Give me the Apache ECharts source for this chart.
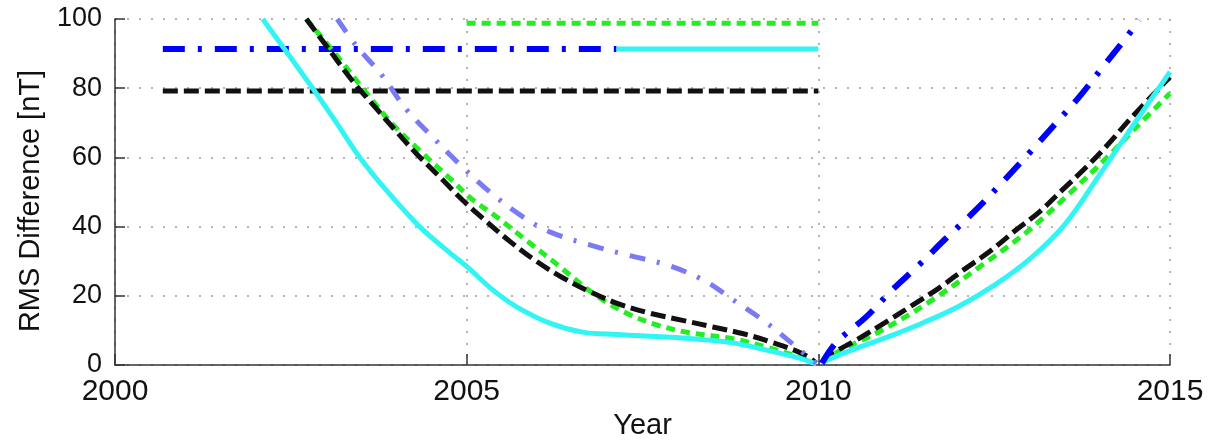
<!DOCTYPE html>
<html>
<head>
<meta charset="utf-8">
<script src="https://cdn.jsdelivr.net/npm/echarts@6/dist/echarts.min.js"></script>
<style>
html,body{margin:0;padding:0;background:#fff;}
#chart{width:1211px;height:440px;}
</style>
</head>
<body>
<div id="chart"></div>
<script>
// ---- Tick labels / axis ranges ----
const xTicks = [2000, 2005, 2010, 2015];
const yTicks = [0, 20, 40, 60, 80, 100];

// ---- Horizontal reference levels ----
const blackFlatYears = [2000.68, 2010];
const blackFlatValues = [79.2, 79.2];
const blueFlatYears = [2000.68, 2007.13];
const blueFlatValues = [91.3, 91.3];
const cyanFlatYears = [2007.13, 2010];
const cyanFlatValues = [91.3, 91.3];
const greenFlatYears = [2005, 2010];
const greenFlatValues = [98.8, 98.8];

// ---- Curves before 2010 ----
const cyanPreYears  = [2002.1, 2002.81, 2003.15, 2003.48, 2003.9, 2004.33, 2004.76, 2005.0, 2005.37, 2005.71, 2006.18, 2006.65, 2007.13, 2008.07, 2008.78, 2009.26, 2009.73, 2009.97];
const cyanPreValues = [100, 80, 70, 60, 49.5, 40, 32.4, 28.5, 21.7, 16.8, 12.1, 9.5, 8.8, 7.8, 6.4, 4.3, 2, 0.3];

const blackPreYears  = [2002.72, 2003.05, 2003.38, 2003.72, 2004.0, 2004.29, 2004.62, 2004.94, 2005.28, 2005.61, 2005.99, 2006.36, 2006.75, 2007.17, 2007.6, 2008.07, 2008.5, 2008.92, 2009.35, 2009.77, 2009.97];
const blackPreValues = [100, 91, 82, 74, 67.5, 61, 54.3, 47.7, 41.5, 35.8, 30, 25.3, 21.2, 17.6, 15, 12.9, 11, 9.1, 6.5, 3.3, 0.6];

const greenPreYears  = [2002.72, 2003.15, 2003.58, 2003.95, 2004.33, 2004.81, 2005.07, 2005.4, 2005.85, 2006.32, 2006.79, 2007.27, 2007.7, 2008.17, 2008.78, 2009.26, 2009.73, 2009.97];
const greenPreValues = [100, 89.5, 78.5, 69.5, 62, 53, 48, 43.2, 36, 28.5, 20.8, 15, 11.6, 9.3, 7.6, 5.2, 2.3, 0.5];

const lightBluePreYears  = [2003.16, 2003.44, 2003.77, 2004.15, 2004.51, 2004.88, 2005.33, 2005.8, 2006.19, 2006.75, 2007.28, 2007.85, 2008.36, 2008.79, 2009.27, 2009.74, 2009.97];
const lightBluePreValues = [100, 92, 84.4, 73.7, 66, 58.4, 50, 42.8, 38.4, 34.7, 31.8, 28.9, 24.6, 18.8, 12.1, 4.3, 0.5];

// ---- Curves after 2010 ----
const cyanPostYears  = [2010.06, 2010.5, 2011.0, 2011.5, 2012.0, 2012.5, 2013.0, 2013.5, 2014.0, 2014.5, 2015];
const cyanPostValues = [0.9, 4.5, 8.2, 12.3, 17, 23, 30.5, 40.5, 55, 70, 84.7];

const blackPostYears  = [2010.06, 2010.16, 2010.54, 2010.96, 2011.34, 2011.72, 2012.1, 2012.43, 2012.81, 2013.14, 2013.47, 2013.81, 2014.13, 2014.42, 2015];
const blackPostValues = [0.8, 2.9, 7.2, 12.4, 17.3, 22.3, 28, 32.7, 39, 44.2, 50.6, 57.2, 64, 70.8, 83.2];

const greenPostYears  = [2010.06, 2010.25, 2010.91, 2011.62, 2012.33, 2012.95, 2013.52, 2014.13, 2014.51, 2015];
const greenPostValues = [0.8, 3.5, 10.1, 18.8, 28.9, 38.2, 48.6, 60.5, 68.5, 78.5];

const bluePostYears  = [2010.05, 2010.25, 2010.68, 2011.05, 2011.43, 2011.82, 2012.24, 2012.62, 2013.0, 2013.33, 2013.71, 2014.09, 2014.46, 2014.56];
const bluePostValues = [0.5, 6.4, 13.9, 21.7, 28.9, 36.7, 44.8, 52.9, 61.3, 68.8, 77.5, 87.3, 96.8, 99.7];

function pairs(xs, ys) { return xs.map((x, i) => [x, ys[i]]); }

const FONT = '"Liberation Sans", Arial, Helvetica, sans-serif';
const C_CYAN = '#33f4f4';
const C_GREEN = '#22ee22';
const C_BLACK = '#111111';
const C_BLUE = '#0000ff';
const C_LBLUE = '#7a7af5';

const styles = {
  black: { color: C_BLACK, width: 5, type: [15, 6] },
  green: { color: C_GREEN, width: 5, type: [9, 6] },
  blue:  { color: C_BLUE, width: 6, type: [22, 13, 4, 13] },
  lblue: { color: C_LBLUE, width: 5, type: [16, 12, 3, 12] },
  cyan:  { color: C_CYAN, width: 5, type: 'solid' }
};

function line(name, xs, ys, st, smooth) {
  return {
    name: name,
    type: 'line',
    data: pairs(xs, ys),
    showSymbol: false,
    symbol: 'none',
    smooth: smooth ? 0.35 : false,
    clip: true,
    silent: true,
    animation: false,
    lineStyle: Object.assign({ cap: 'butt', join: 'round' }, st)
  };
}

const chart = echarts.init(document.getElementById('chart'), null, { renderer: 'canvas' });
chart.setOption({
  backgroundColor: '#ffffff',
  animation: false,
  grid: { left: 115, right: 41, top: 19, bottom: 75, containLabel: false, outerBoundsMode: 'none' },
  xAxis: {
    type: 'value',
    min: xTicks[0], max: xTicks[xTicks.length - 1], interval: 5,
    name: 'Year', nameLocation: 'middle', nameGap: 46,
    nameTextStyle: { fontFamily: FONT, fontSize: 29, color: '#111' },
    axisLine: { show: true, onZero: false, lineStyle: { color: '#333', width: 1.5 } },
    axisTick: { show: true, inside: true, length: 11, lineStyle: { color: '#333', width: 1.5 } },
    axisLabel: { fontFamily: FONT, fontSize: 30, color: '#111', margin: 12,
      formatter: v => String(v) },
    splitLine: { show: true, lineStyle: { color: '#9a9a9a', width: 1.5, type: [2, 10] } }
  },
  yAxis: {
    type: 'value',
    min: yTicks[0], max: yTicks[yTicks.length - 1], interval: 20,
    name: 'RMS Difference [nT]', nameLocation: 'middle', nameGap: 70, nameRotate: 90,
    nameTextStyle: { fontFamily: FONT, fontSize: 29, color: '#111', padding: [0, 18, 0, 0] },
    axisLine: { show: true, onZero: false, lineStyle: { color: '#333', width: 1.5 } },
    axisTick: { show: true, inside: true, length: 10, lineStyle: { color: '#333', width: 1.5 } },
    axisLabel: { fontFamily: FONT, fontSize: 27, color: '#111', margin: 13 },
    splitLine: { show: true, lineStyle: { color: '#9a9a9a', width: 1.5, type: [2, 10] } }
  },
  series: [
    line('greenFlat', greenFlatYears, greenFlatValues, styles.green, false),
    line('blackFlat', blackFlatYears, blackFlatValues, styles.black, false),
    line('blueFlat', blueFlatYears, blueFlatValues, styles.blue, false),
    line('cyanFlat', cyanFlatYears, cyanFlatValues, styles.cyan, false),
    line('greenPre', greenPreYears, greenPreValues, styles.green, true),
    line('blackPre', blackPreYears, blackPreValues, styles.black, true),
    line('cyanPre', cyanPreYears, cyanPreValues, styles.cyan, true),
    line('lightBluePre', lightBluePreYears, lightBluePreValues, styles.lblue, true),
    line('greenPost', greenPostYears, greenPostValues, styles.green, true),
    line('blackPost', blackPostYears, blackPostValues, styles.black, true),
    line('cyanPost', cyanPostYears, cyanPostValues, styles.cyan, true),
    line('bluePost', bluePostYears, bluePostValues, styles.blue, true)
  ]
});
</script>
</body>
</html>
